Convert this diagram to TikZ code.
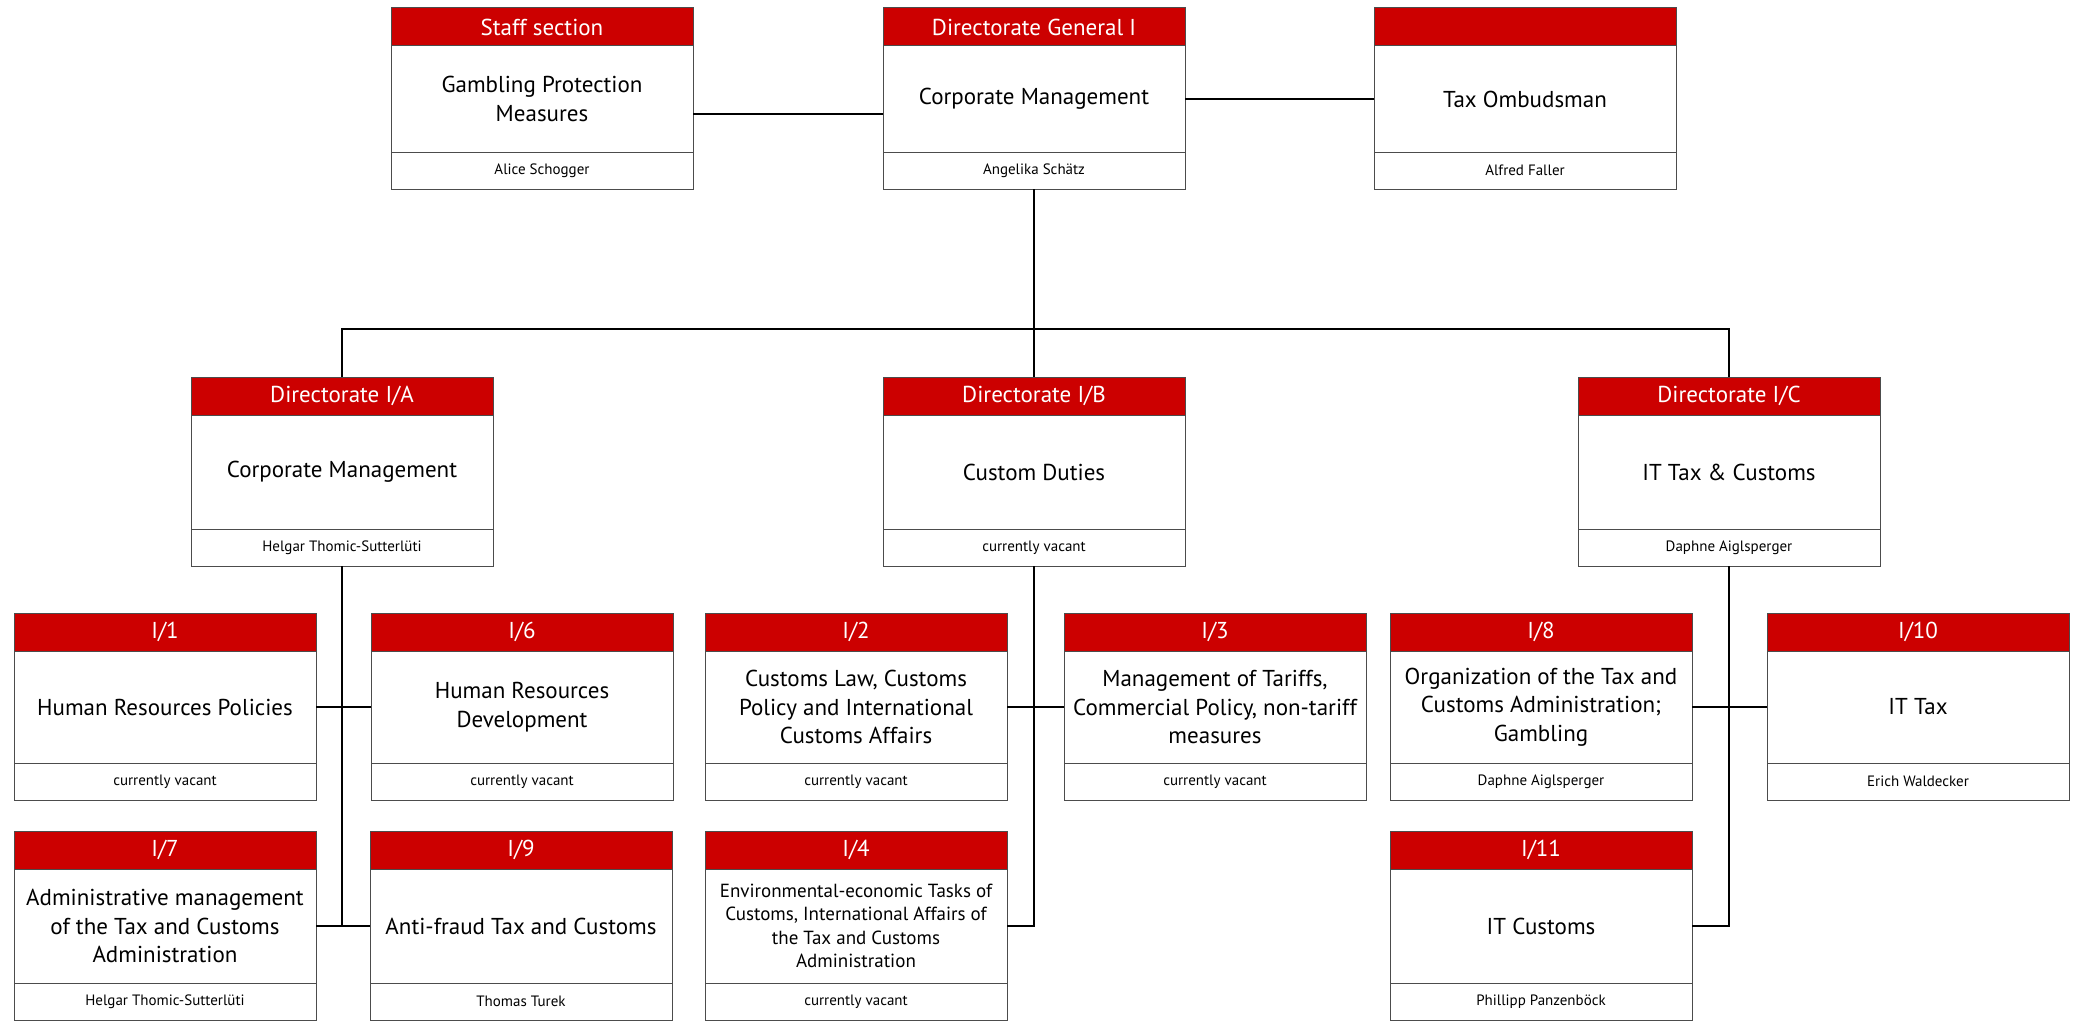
\documentclass[tikz,border=0pt]{standalone}
\usepackage{fontspec}
\setmainfont{PT Sans}
\definecolor{hdrred}{HTML}{CC0000}
\newcommand\orgbox[8][]{%
  \node[hdr, anchor=north west] (#2-h) at (#3,#4) {#6};
  \node[bdy, minimum height=#5pt, anchor=north, #1] (#2) at (#2-h.south) {#7};
  \node[ftr, anchor=north] (#2-f) at (#2.south) {#8};
}
\begin{document}
\begin{tikzpicture}[x=1pt,y=-1pt,
  boxline/.style={draw=black!70, line width=1pt},
  hdr/.style={boxline, fill=hdrred, text=white, minimum width=302pt, minimum height=38pt, inner sep=0pt, outer sep=0pt, font=\fontsize{23}{28}\selectfont},
  bdy/.style={boxline, fill=white, minimum width=302pt, inner sep=2pt, outer sep=0pt, align=center, font=\fontsize{23}{28.5}\selectfont},
  ftr/.style={boxline, fill=white, minimum width=302pt, minimum height=37pt, inner sep=0pt, outer sep=0pt, font=\fontsize{15}{18}\selectfont},
  small/.style={font=\fontsize{19}{23.5}\selectfont},
  conn/.style={draw=black, line width=2pt},
]
\useasboundingbox (0,0) rectangle (2078,1025);
\fill[white] (0,0) rectangle (2078,1025);

% row 1
\orgbox{staff}{391}{8}{106}{Staff section}{Gambling Protection\\Measures}{Alice Schogger}
\orgbox{dg}{883}{8}{106}{Directorate General I}{Corporate Management}{Angelika Schätz}
\orgbox{omb}{1374}{8}{106}{}{Tax Ombudsman}{Alfred Faller}

% row 2
\orgbox{iA}{191}{377}{114}{Directorate I/A}{Corporate Management}{Helgar Thomic-Sutterlüti}
\orgbox{iB}{883}{377}{114}{Directorate I/B}{Custom Duties}{currently vacant}
\orgbox{iC}{1578}{377}{114}{Directorate I/C}{IT Tax \& Customs}{Daphne Aiglsperger}

% row 3
\orgbox{i1}{14}{613}{112}{I/1}{Human Resources Policies}{currently vacant}
\orgbox{i6}{371}{613}{112}{I/6}{Human Resources\\Development}{currently vacant}
\orgbox{i2}{705}{613}{112}{I/2}{Customs Law, Customs\\Policy and International\\Customs Affairs}{currently vacant}
\orgbox{i3}{1064}{613}{112}{I/3}{Management of Tariffs,\\Commercial Policy, non-tariff\\measures}{currently vacant}
\orgbox{i8}{1390}{613}{112}{I/8}{Organization of the Tax and\\Customs Administration;\\Gambling}{Daphne Aiglsperger}
\orgbox{i10}{1767}{613}{112}{I/10}{IT Tax}{Erich Waldecker}

% row 4
\orgbox{i7}{14}{831}{114}{I/7}{Administrative management\\of the Tax and Customs\\Administration}{Helgar Thomic-Sutterlüti}
\orgbox{i9}{370}{831}{114}{I/9}{Anti-fraud Tax and Customs}{Thomas Turek}
\orgbox[small]{i4}{705}{831}{114}{I/4}{Environmental-economic Tasks of\\Customs, International Affairs of\\the Tax and Customs\\Administration}{currently vacant}
\orgbox{i11}{1390}{831}{114}{I/11}{IT Customs}{Phillipp Panzenböck}

% connectors
\coordinate (bus) at (0,329);
\draw[conn] ([yshift=-15pt]staff.east) -- ([yshift=-15pt]staff.east -| dg.west);
\draw[conn] (dg.east) -- (omb.west);
\draw[conn] (dg-f.south) -- (iB-h.north);
\draw[conn] (iA-h.north) -- (iA-h.north |- bus) -- (iC-h.north |- bus) -- (iC-h.north);

\draw[conn] (iA-f.south) -- (iA-f.south |- i7.east);
\draw[conn] (i1.east) -- (i6.west);
\draw[conn] (i7.east) -- (i9.west);

\draw[conn] (iB-f.south) |- (i4.east);
\draw[conn] (i2.east) -- (i3.west);

\draw[conn] (iC-f.south) |- (i11.east);
\draw[conn] (i8.east) -- (i10.west);
\end{tikzpicture}
\end{document}
